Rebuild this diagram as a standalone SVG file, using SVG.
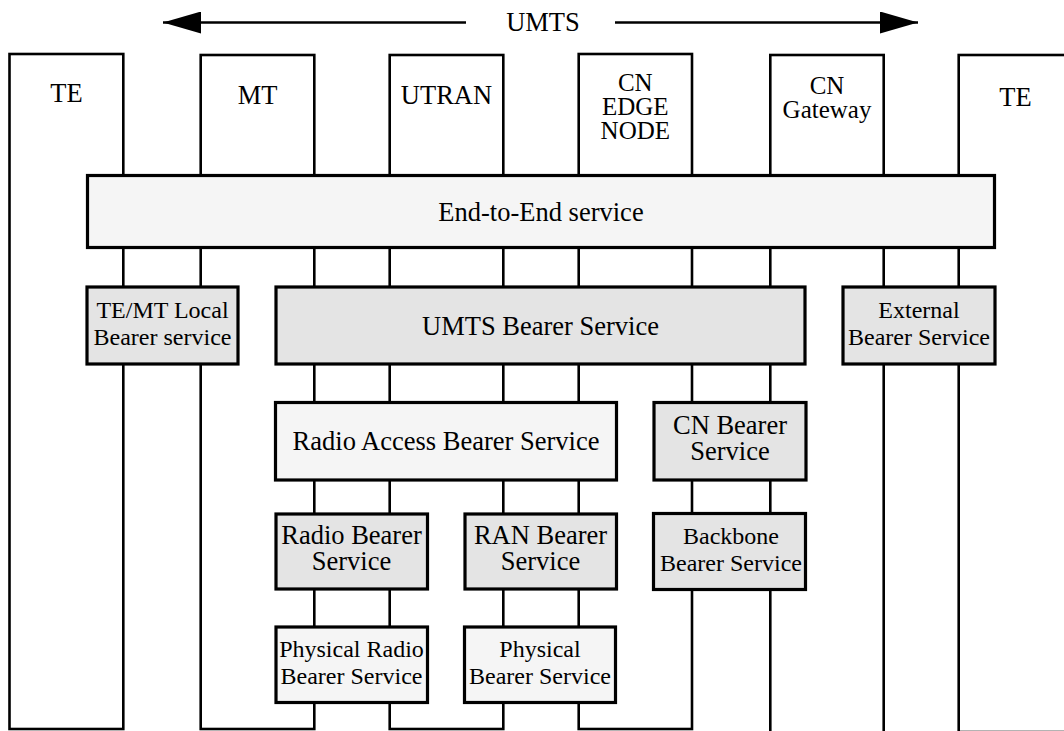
<svg xmlns="http://www.w3.org/2000/svg" width="1064" height="731" viewBox="0 0 1064 731">
  <style>
    .col { fill: none; stroke: #000; stroke-width: 2.6; }
    .svc { stroke: #000; stroke-width: 3.2; }
    .light { fill: #f5f5f5; }
    .grey { fill: #e4e4e4; }
    text { font-family: 'Liberation Serif', 'DejaVu Serif', serif; fill: #000; text-anchor: middle; }
    .big { font-size: 26.5px; }
    .stack { font-size: 25px; }
    .small { font-size: 24px; }
    .arrow { stroke: #000; stroke-width: 2.6; fill: none; }
  </style>
  <defs>
    <marker id="head" markerUnits="userSpaceOnUse" markerWidth="38" markerHeight="22" refX="38" refY="11" orient="auto">
      <path d="M0,0 L38,11 L0,22 z" fill="#000"/>
    </marker>
  </defs>

  <rect width="1064" height="731" fill="#fff"/>

  <!-- network elements: tall columns -->
  <g id="te-left">
    <rect class="col" x="9.5" y="54" width="113.8" height="675"/>
    <text class="big" x="66.5" y="102">TE</text>
  </g>
  <g id="mt">
    <rect class="col" x="200.7" y="55" width="113.6" height="674"/>
    <text class="big" x="257.5" y="104">MT</text>
  </g>
  <g id="utran">
    <rect class="col" x="389.7" y="55" width="113.6" height="674"/>
    <text class="big" x="446.5" y="104">UTRAN</text>
  </g>
  <g id="cn-edge-node">
    <rect class="col" x="578.7" y="54" width="113.3" height="675"/>
    <text class="stack" x="635.3" y="91">CN</text>
    <text class="stack" x="635.3" y="115">EDGE</text>
    <text class="stack" x="635.3" y="139">NODE</text>
  </g>
  <g id="cn-gateway">
    <rect class="col" x="770.3" y="55" width="113.4" height="700"/>
    <text class="stack" x="827" y="94">CN</text>
    <text class="stack" x="827" y="117.5">Gateway</text>
  </g>
  <g id="te-right">
    <rect class="col" x="958.7" y="55" width="113.3" height="677"/>
    <text class="big" x="1015.5" y="106">TE</text>
  </g>

  <!-- UMTS span arrows -->
  <g id="connectors">
    <line class="arrow" x1="466" y1="22.5" x2="163" y2="22.5" marker-end="url(#head)"/>
    <line class="arrow" x1="615" y1="22.5" x2="918" y2="22.5" marker-end="url(#head)"/>
  </g>
  <g id="umts-label">
    <text class="big" x="543" y="31">UMTS</text>
  </g>

  <!-- bearer service layers -->
  <g id="end-to-end">
    <rect class="svc light" x="87.5" y="175.5" width="907" height="72"/>
    <text class="big" x="541" y="221">End-to-End service</text>
  </g>

  <g id="te-mt-local">
    <rect class="svc grey" x="87" y="287" width="151" height="77"/>
    <text class="small" x="162.5" y="318">TE/MT Local</text>
    <text class="small" x="162.5" y="345">Bearer service</text>
  </g>
  <g id="umts-bearer">
    <rect class="svc grey" x="276" y="287" width="529" height="77"/>
    <text class="big" x="540.5" y="334.5">UMTS Bearer Service</text>
  </g>
  <g id="external-bearer">
    <rect class="svc grey" x="843" y="287" width="152" height="77"/>
    <text class="small" x="919" y="318">External</text>
    <text class="small" x="919" y="345">Bearer Service</text>
  </g>

  <g id="radio-access-bearer">
    <rect class="svc light" x="275.5" y="402.5" width="341" height="77.5"/>
    <text class="big" x="446" y="450">Radio Access Bearer Service</text>
  </g>
  <g id="cn-bearer">
    <rect class="svc grey" x="654" y="402.5" width="152" height="77.5"/>
    <text class="big" x="730" y="433.5">CN Bearer</text>
    <text class="big" x="730" y="460">Service</text>
  </g>

  <g id="radio-bearer">
    <rect class="svc grey" x="276" y="514" width="151.5" height="75"/>
    <text class="big" x="351.5" y="544">Radio Bearer</text>
    <text class="big" x="351.5" y="570">Service</text>
  </g>
  <g id="ran-bearer">
    <rect class="svc grey" x="465" y="514" width="151.5" height="75"/>
    <text class="big" x="540.5" y="544">RAN Bearer</text>
    <text class="big" x="540.5" y="570">Service</text>
  </g>
  <g id="backbone-bearer">
    <rect class="svc grey" x="653.5" y="513.5" width="152" height="76"/>
    <text class="small" x="731" y="544">Backbone</text>
    <text class="small" x="731" y="571">Bearer Service</text>
  </g>

  <g id="physical-radio-bearer">
    <rect class="svc light" x="276" y="627" width="151.5" height="75.5"/>
    <text class="small" x="351.5" y="657">Physical Radio</text>
    <text class="small" x="351.5" y="683.5">Bearer Service</text>
  </g>
  <g id="physical-bearer">
    <rect class="svc light" x="464.5" y="627" width="151" height="75.5"/>
    <text class="small" x="540" y="657">Physical</text>
    <text class="small" x="540" y="683.5">Bearer Service</text>
  </g>
</svg>
